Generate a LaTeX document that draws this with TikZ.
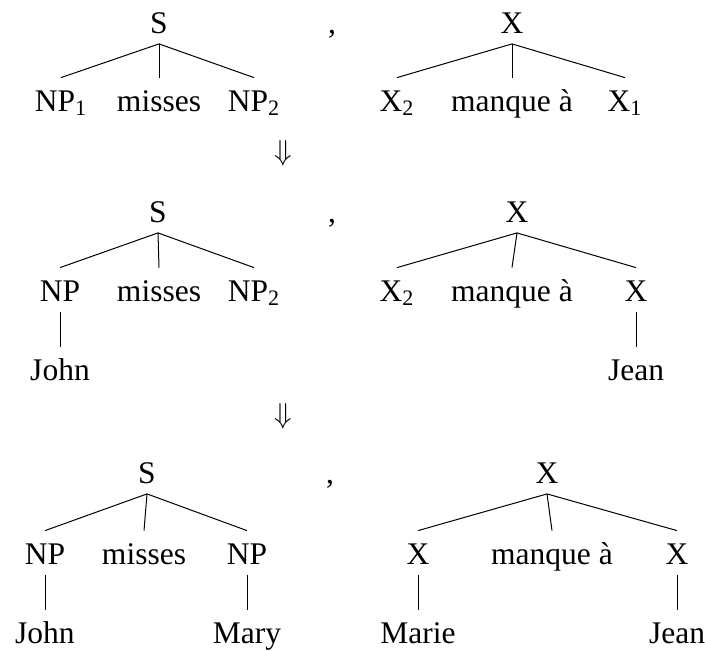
\documentclass[tikz,border=0pt]{standalone}
\usepackage{fontspec}
\setmainfont{Liberation Serif}
\usepackage{tikz}

\begin{document}
\begin{tikzpicture}[
    x=0.5pt, y=-0.5pt,
    cat/.style={
      anchor=base,
      font=\fontsize{15.75}{19}\selectfont,
      text height=11.25pt,
      text depth=0pt,
      inner sep=5.25pt
    },
    derive/.style={font=\fontsize{15.75}{19}\selectfont, inner sep=0pt},
    branch/.style={line width=0.5pt}
  ]
    \useasboundingbox (0,0) rectangle (705,650);

    % first pair
    \node[cat] (s1) at (159,33) {S};
    \node[cat] (np1a) at (61,111) {NP\textsubscript{1}};
    \node[cat] (misses1) at (159,111) {misses};
    \node[cat] (np1b) at (254,111) {NP\textsubscript{2}};
    \node[cat] (comma1) at (332,33) {,};
    \node[cat] (x1) at (512,33) {X};
    \node[cat] (xa1) at (397,111) {X\textsubscript{2}};
    \node[cat] (manque1) at (512,111) {manque à};
    \node[cat] (xb1) at (625,111) {X\textsubscript{1}};

    \foreach \c in {np1a,misses1,np1b} \draw[branch] (s1.south) -- (\c.north);
    \foreach \c in {xa1,manque1,xb1} \draw[branch] (x1.south) -- (\c.north);

    \node[derive] (arrow1) at (283,153) {$\Downarrow$};

    % second pair
    \node[cat] (s2) at (158,222) {S};
    \node[cat] (np2a) at (60,301) {NP};
    \node[cat] (misses2) at (159,301) {misses};
    \node[cat] (np2b) at (254,301) {NP\textsubscript{2}};
    \node[cat] (john2) at (60,380) {John};
    \node[cat] (comma2) at (332,222) {,};
    \node[cat] (x2) at (517,222) {X};
    \node[cat] (xa2) at (397,301) {X\textsubscript{2}};
    \node[cat] (manque2) at (512,301) {manque à};
    \node[cat] (xb2) at (636,301) {X};
    \node[cat] (jean2) at (636,380) {Jean};

    \foreach \c in {np2a,misses2,np2b} \draw[branch] (s2.south) -- (\c.north);
    \foreach \c in {xa2,manque2,xb2} \draw[branch] (x2.south) -- (\c.north);
    \draw[branch] (np2a.south) -- (john2.north);
    \draw[branch] (xb2.south) -- (jean2.north);

    \node[derive] (arrow2) at (283,416) {$\Downarrow$};

    % third pair
    \node[cat] (s3) at (147,483) {S};
    \node[cat] (np3a) at (45,564) {NP};
    \node[cat] (misses3) at (144,564) {misses};
    \node[cat] (np3b) at (247,564) {NP};
    \node[cat] (john3) at (45,643) {John};
    \node[cat] (mary3) at (247,643) {Mary};
    \node[cat] (comma3) at (330,483) {,};
    \node[cat] (x3) at (547,483) {X};
    \node[cat] (xa3) at (418,564) {X};
    \node[cat] (manque3) at (552,564) {manque à};
    \node[cat] (xb3) at (677,564) {X};
    \node[cat] (marie3) at (418,643) {Marie};
    \node[cat] (jean3) at (677,643) {Jean};

    \foreach \c in {np3a,misses3,np3b} \draw[branch] (s3.south) -- (\c.north);
    \foreach \c in {xa3,manque3,xb3} \draw[branch] (x3.south) -- (\c.north);
    \draw[branch] (np3a.south) -- (john3.north);
    \draw[branch] (np3b.south) -- (mary3.north);
    \draw[branch] (xa3.south) -- (marie3.north);
    \draw[branch] (xb3.south) -- (jean3.north);
  \end{tikzpicture}
\end{document}
